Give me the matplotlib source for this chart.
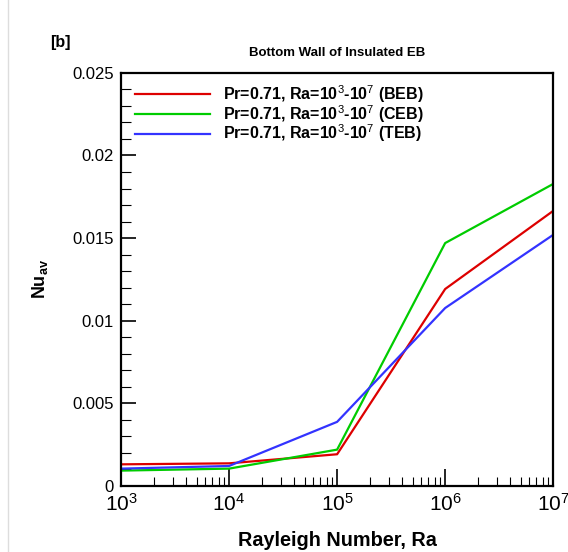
import matplotlib
matplotlib.use('Agg')
import matplotlib.pyplot as plt
from matplotlib.ticker import MultipleLocator, LogLocator, NullFormatter
from matplotlib.lines import Line2D

plt.rcParams['font.family'] = ['Liberation Sans', 'DejaVu Sans']
plt.rcParams['mathtext.fontset'] = 'custom'
plt.rcParams['mathtext.rm'] = 'Liberation Sans'

# datos
ra = [1e3, 1e4, 1e5, 1e6, 1e7]
nu_beb = [0.00131, 0.00137, 0.00192, 0.01192, 0.01665]
nu_ceb = [0.00093, 0.00105, 0.00220, 0.01470, 0.01828]
nu_teb = [0.00105, 0.00121, 0.00388, 0.01077, 0.01520]
labels = ['Pr=0.71, Ra=10$^{3}$-10$^{7}$ (BEB)',
          'Pr=0.71, Ra=10$^{3}$-10$^{7}$ (CEB)',
          'Pr=0.71, Ra=10$^{3}$-10$^{7}$ (TEB)']

fig = plt.figure(figsize=(5.68, 5.52), dpi=100)
ax = fig.add_axes([0.213, 0.1196, 0.761, 0.7484])

ax.plot(ra, nu_beb, color='#dd0000', lw=1.6, label=labels[0])
ax.plot(ra, nu_ceb, color='#00cc00', lw=1.6, label=labels[1])
ax.plot(ra, nu_teb, color='#3333ff', lw=1.6, label=labels[2])

ax.set_xscale('log')
ax.set_xlim(1e3, 1e7)
ax.set_ylim(0, 0.025)

ax.yaxis.set_minor_locator(MultipleLocator(0.001))
ax.set_yticks([0, 0.005, 0.01, 0.015, 0.02, 0.025])
ax.set_yticklabels(['0', '0.005', '0.01', '0.015', '0.02', '0.025'])
ax.xaxis.set_minor_locator(LogLocator(base=10, subs=range(2, 10)))
ax.xaxis.set_minor_formatter(NullFormatter())

ax.tick_params(axis='both', which='both', direction='in', top=False, right=False)
ax.tick_params(axis='x', which='major', length=12, width=1.2, labelsize=15, pad=5)
ax.tick_params(axis='x', which='minor', length=6.5, width=0.8)
ax.tick_params(axis='y', which='major', length=11, width=1.2, labelsize=12, pad=5)
ax.tick_params(axis='y', which='minor', length=7.5, width=0.8)
for s in ax.spines.values():
    s.set_linewidth(1.6)

ax.set_xlabel('Rayleigh Number, Ra', fontsize=14.3, fontweight='bold', labelpad=12)
ax.set_ylabel('Nu$_{\\mathregular{av}}$', fontsize=13, fontweight='bold', labelpad=16)
ax.set_title('Bottom Wall of Insulated EB', fontsize=9.5, fontweight='bold', pad=12)
fig.text(0.088, 0.915, '[b]', fontsize=11.5, fontweight='bold')

leg = ax.legend(loc='upper left', bbox_to_anchor=(0.0, 1.01), frameon=False,
                handlelength=4.7, prop={'weight': 'bold', 'size': 11.5},
                labelspacing=-0.12, handletextpad=0.8)

# linea gris del borde izquierdo
fig.add_artist(Line2D([0.014, 0.014], [0, 1], color='#dddddd', lw=1))

fig.savefig('out.png', dpi=100)
